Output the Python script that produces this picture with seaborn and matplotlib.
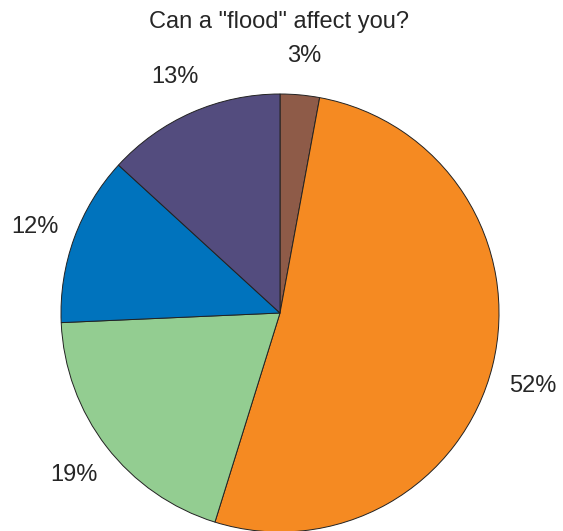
import matplotlib
matplotlib.use("Agg")
import matplotlib.pyplot as plt
from matplotlib import font_manager
import seaborn as sns

# slice data, clockwise from the top (shares)
categories = ["A", "B", "C", "D", "E"]
shares = [2.9, 51.9, 19.5, 12.5, 13.2]
pct_labels = ["3%", "52%", "19%", "12%", "13%"]
colors = ["#8E5B48", "#F58A22", "#93CD91", "#0073BD", "#534C7E"]

sns.set_theme(style="white")
plt.rcParams['font.family'] = ['Liberation Sans', 'DejaVu Sans']

# make sure the regular (not narrow) Liberation Sans is used
font_path = None
for f in font_manager.findSystemFonts():
    if f.endswith("LiberationSans-Regular.ttf"):
        font_path = f
        break
if font_path:
    fp = font_manager.FontProperties(fname=font_path, size=17)
else:
    fp = font_manager.FontProperties(family="Liberation Sans", size=17)

fig = plt.figure(figsize=(5.63, 5.31), dpi=100)
cx, cy, r = 280, 313, 219
ax = fig.add_axes([(cx - r) / 563, (531 - cy - r) / 531, 2 * r / 563, 2 * r / 531])

wedges, texts = ax.pie(shares, labels=pct_labels, colors=colors, startangle=90,
                       counterclock=False, labeldistance=1.19,
                       wedgeprops=dict(edgecolor="#222222", linewidth=0.7))
# small nudges (in radius units) so labels sit where the original has them
nudge = {"52%": -0.035}
for t in texts:
    t.set_fontproperties(fp)
    t.set_color("#262626")
    t.set_ha("center")
    t.set_va("center")
    x, y = t.get_position()
    t.set_position((x, y - 0.013 + nudge.get(t.get_text(), 0)))
ax.set_xlim(-1, 1)
ax.set_ylim(-1, 1)
ax.set_aspect("equal")
ax.axis("off")

fig.text(279 / 563, 1 - 22 / 531, 'Can a "flood" affect you?', ha="center", va="center",
         fontproperties=fp, color="#262626")

fig.savefig("out.png", dpi=100)
